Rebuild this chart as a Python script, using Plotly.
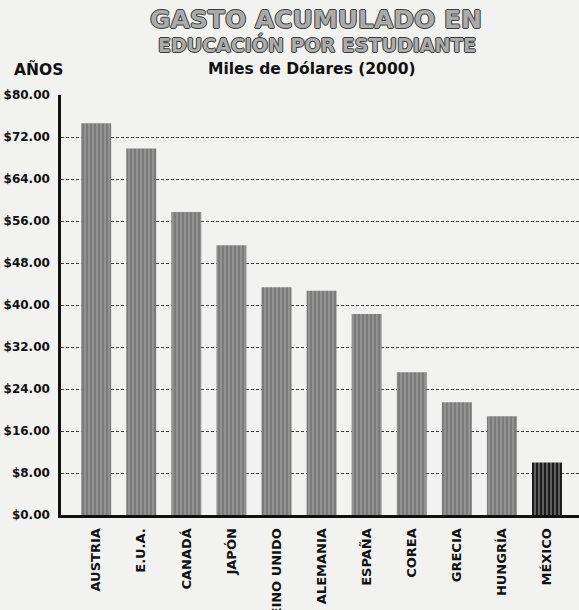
import plotly.graph_objects as go

# Cumulative expenditure per student, thousands of US dollars (2000)
paises = ["AUSTRIA", "E.U.A.", "CANADÁ", "JAPÓN", "REINO UNIDO", "ALEMANIA",
          "ESPAÑA", "COREA", "GRECIA", "HUNGRÍA", "MÉXICO"]
gasto = [74.6, 69.8, 57.7, 51.4, 43.4, 42.7, 38.3, 27.2, 21.5, 18.8, 10.0]
ticks_y = [0, 8, 16, 24, 32, 40, 48, 56, 64, 72, 80]
ticks_txt = ["$%.2f" % v for v in ticks_y]

W, H = 579, 610
ML, MR, MT, MB = 61, 0, 95, 95
pw, ph = W - ML - MR, H - MT - MB

FONT = "'DejaVu Sans', 'Liberation Sans', sans-serif"
PAPER = "#f2f2f0"

colores = ["#1c1c1c" if p == "MÉXICO" else "#929292" for p in paises]
rayas = ["#6a6a6a" if p == "MÉXICO" else "#727272" for p in paises]

fig = go.Figure(go.Bar(
    x=paises, y=gasto, width=0.665,
    marker=dict(color=colores, line=dict(width=0),
                pattern=dict(shape="|", fgcolor=rayas, size=4, solidity=0.3)),
))


def py(ypix):
    return (H - MB - ypix) / ph


def px(xpix):
    return (xpix - ML) / pw


outline = "1px 0 0 #3a3a3a, -1px 0 0 #3a3a3a, 0 1px 0 #3a3a3a, 0 -1px 0 #3a3a3a"
fig.add_annotation(text="GASTO ACUMULADO EN", x=px(316), y=py(20),
                   xref="paper", yref="paper", showarrow=False,
                   xanchor="center", yanchor="middle",
                   font=dict(family=FONT, size=25, weight="bold", color="#ababab",
                             shadow=outline))
fig.add_annotation(text="EDUCACIÓN POR ESTUDIANTE", x=px(317), y=py(45),
                   xref="paper", yref="paper", showarrow=False,
                   xanchor="center", yanchor="middle",
                   font=dict(family=FONT, size=19, weight="bold", color="#ababab",
                             shadow=outline))
fig.add_annotation(text="Miles de Dólares (2000)", x=px(312), y=py(69),
                   xref="paper", yref="paper", showarrow=False,
                   xanchor="center", yanchor="middle",
                   font=dict(family=FONT, size=15.5, weight="bold", color="#111111"))
fig.add_annotation(text="AÑOS", x=px(12), y=py(69),
                   xref="paper", yref="paper", showarrow=False,
                   xanchor="left", yanchor="middle",
                   font=dict(family=FONT, size=15.5, weight="bold", color="#111111"))

fig.update_layout(
    width=W, height=H,
    margin=dict(l=ML, r=MR, t=MT, b=MB, pad=0),
    paper_bgcolor=PAPER, plot_bgcolor=PAPER,
    showlegend=False,
    font=dict(family=FONT, color="#111111"),
)
fig.update_yaxes(
    range=[0, 80], tickmode="array", tickvals=ticks_y, ticktext=ticks_txt,
    automargin=False,
    showgrid=True, gridcolor="#3c3c3c", gridwidth=1, griddash="3px,2px",
    zeroline=False, showline=True, linecolor="#111111", linewidth=2.5,
    ticks="", ticklabelstandoff=6,
    tickfont=dict(family=FONT, size=12, weight="bold", color="#111111"),
)
fig.update_xaxes(
    range=[-0.78, 10.71], tickangle=-90, automargin=False,
    showline=True, linecolor="#111111", linewidth=3,
    showgrid=False, ticks="", ticklabelstandoff=5,
    tickfont=dict(family=FONT, size=13, weight="bold", color="#111111"),
)

fig.write_html("out.html")
